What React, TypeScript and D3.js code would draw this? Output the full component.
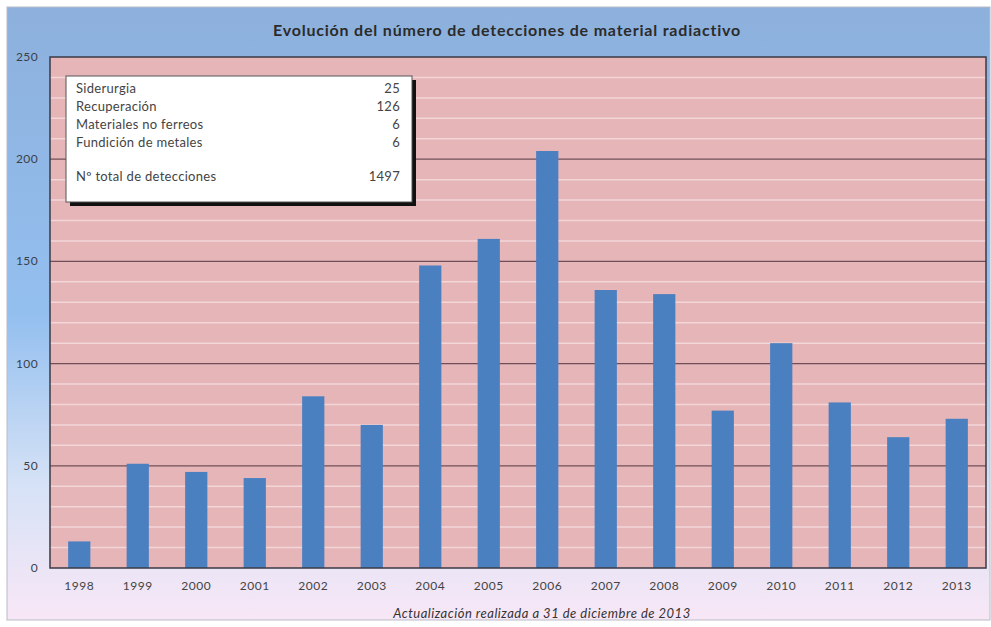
import React from "react";
import * as d3 from "d3";

const years = ["1998","1999","2000","2001","2002","2003","2004","2005","2006","2007","2008","2009","2010","2011","2012","2013"];
const detections = [13,51,47,44,84,70,148,161,204,136,134,77,110,81,64,73];
const yTicks = [0,50,100,150,200,250];
const legendLabels = ["Siderurgia","Recuperación","Materiales no ferreos","Fundición de metales"];
const legendValues = ["25","126","6","6"];
const totalLabel = "Nº total de detecciones";
const totalValue = "1497";
const title = "Evolución del número de detecciones de material radiactivo";
const caption = "Actualización realizada a 31 de diciembre de 2013";

export default function App() {
  const W = 991, H = 627;
  const plot = { left: 50, right: 986, top: 57, bottom: 568 };
  const x = d3.scaleBand<string>().domain(years).range([plot.left, plot.right]).paddingInner(0.62).paddingOuter(0.31);
  const y = d3.scaleLinear().domain([0, 250]).range([plot.bottom, plot.top]);
  const minor = d3.range(10, 250, 10).filter(v => v % 50 !== 0);
  const font = "Lato, 'Open Sans', sans-serif";
  return (
    <svg width={W} height={H} style={{ position: "absolute", left: 0, top: 0, fontFamily: font }}>
      <defs>
        <linearGradient id="bg" x1="0" y1="0" x2="0" y2="1">
          <stop offset="0" stopColor="#8db0dc" />
          <stop offset="0.5" stopColor="#93bfef" />
          <stop offset="0.78" stopColor="#d6e2f6" />
          <stop offset="1" stopColor="#f8e7f6" />
        </linearGradient>
      </defs>
      <rect x={0} y={0} width={W} height={H} fill="#ffffff" />
      <rect x={7} y={7} width={983} height={613} fill="url(#bg)" stroke="#b8bcc8" strokeWidth={1} />
      <text x={507} y={36} textAnchor="middle" fontWeight="bold" fontSize={16} letterSpacing={0.8} fill="#2b2b2b">{title}</text>
      <rect x={plot.left} y={plot.top} width={plot.right - plot.left} height={plot.bottom - plot.top} fill="#e6b5b8" />
      {minor.map(v => (
        <line key={"m" + v} x1={plot.left} x2={plot.right} y1={y(v)} y2={y(v)} stroke="#f2d6d8" strokeWidth={1.5} />
      ))}
      {yTicks.filter(v => v > 0 && v < 250).map(v => (
        <line key={"g" + v} x1={plot.left} x2={plot.right} y1={y(v)} y2={y(v)} stroke="#705058" strokeWidth={1.2} />
      ))}
      {years.map((yr, i) => (
        <rect key={yr} x={x(yr)} y={y(detections[i])} width={x.bandwidth()} height={y(0) - y(detections[i])} fill="#4a7fc0" />
      ))}
      <rect x={plot.left} y={plot.top} width={plot.right - plot.left} height={plot.bottom - plot.top} fill="none" stroke="#3a3a44" strokeWidth={1.5} />
      {yTicks.map(v => (
        <text key={"yt" + v} x={38} y={y(v) + 4} textAnchor="end" fontSize={12} letterSpacing={0.4} fill="#3a3f4a">{v}</text>
      ))}
      {years.map(yr => (
        <text key={"xt" + yr} x={(x(yr) as number) + x.bandwidth() / 2} y={590} textAnchor="middle" fontSize={12} letterSpacing={0.5} fill="#444">{yr}</text>
      ))}
      <text x={542} y={618} textAnchor="middle" fontStyle="italic" fontSize={13} letterSpacing={0.5} fill="#333">{caption}</text>
      <rect x={70} y={80} width={346} height={126} fill="#111" />
      <rect x={66} y={76} width={346} height={126} fill="#ffffff" stroke="#555" strokeWidth={1} />
      {legendLabels.map((l, i) => (
        <g key={l}>
          <text x={76} y={93 + i * 18} fontSize={13} letterSpacing={0.3} fill="#444">{l}</text>
          <text x={400} y={93 + i * 18} textAnchor="end" fontSize={13} letterSpacing={0.3} fill="#444">{legendValues[i]}</text>
        </g>
      ))}
      <text x={76} y={181} fontSize={13} letterSpacing={0.3} fill="#444">{totalLabel}</text>
      <text x={400} y={181} textAnchor="end" fontSize={13} letterSpacing={0.3} fill="#444">{totalValue}</text>
    </svg>
  );
}
